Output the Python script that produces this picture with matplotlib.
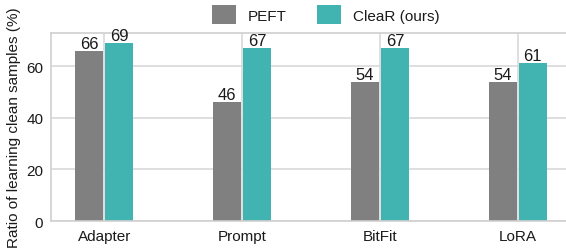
import matplotlib
matplotlib.use("Agg")
import matplotlib.pyplot as plt
import seaborn as sns
import numpy as np

methods = ["Adapter", "Prompt", "BitFit", "LoRA"]
peft = [66, 46, 54, 54]
clear = [69, 67, 67, 61]

sns.set_style("whitegrid")
plt.rcParams['font.family'] = ['Liberation Sans', 'DejaVu Sans']
ink = "#1a1a1a"
plt.rcParams.update({"text.color": ink, "axes.labelcolor": ink,
                     "xtick.color": ink, "ytick.color": ink})

fig = plt.figure(figsize=(5.66, 2.53), dpi=100)
ax = fig.add_axes([0.090, 0.1225, 0.915, 0.743])

x = np.arange(len(methods))
w = 0.204
off = 0.109
b1 = ax.bar(x - off, peft, w, color="#808080", linewidth=0, label="PEFT", zorder=2)
b2 = ax.bar(x + off, clear, w, color="#41b3b0", linewidth=0, label="CleaR (ours)", zorder=2)
ax.bar_label(b1, fontsize=12, padding=0)
ax.bar_label(b2, fontsize=12, padding=0)

ax.set_xticks(x)
ax.set_xticklabels(methods, fontsize=11)
ax.set_yticks([0, 20, 40, 60])
ax.tick_params(axis="y", labelsize=11, pad=2)
ax.tick_params(axis="x", pad=2)
ax.set_ylim(0, 72.8)
ax.set_xlim(-0.386, 3.37)
ax.set_ylabel("Ratio of learning clean samples (%)", fontsize=11)
for s in ax.spines.values():
    s.set_color("#d0d0d0")
    s.set_linewidth(1.2)
ax.grid(color="#d9d9d9", linewidth=1.2)

ax.legend(loc="center", bbox_to_anchor=(0.531, 1.098), ncol=2, frameon=False,
          fontsize=11, handlelength=1.57, handleheight=1.53, handletextpad=0.78,
          columnspacing=2.0)

fig.savefig("out.png", dpi=100)
